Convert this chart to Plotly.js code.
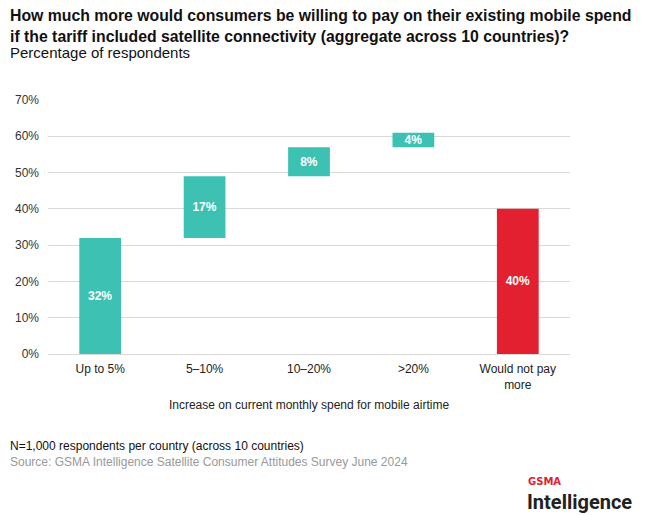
<!DOCTYPE html>
<html><head><meta charset="utf-8">
<script src="https://cdn.plot.ly/plotly-3.0.1.min.js"></script>
<style>html,body{margin:0;padding:0;background:#fff}#c{width:648px;height:515px}</style>
</head><body><div id="c"></div>
<script>
const categories = ["Up to 5%", "5–10%", "10–20%", ">20%", "Would not pay<br>more"];
const values = [32, 17, 8, 4, 40];
const isStep = [true, true, true, true, false];
const tickVals = [0, 10, 20, 30, 40, 50, 60, 70];
const tickText = ["0%", "10%", "20%", "30%", "40%", "50%", "60%", "70%"];

const teal = "#3DC1B3", red = "#E3202F";
let run = 0;
const bases = values.map((v, i) => { if (isStep[i]) { const b = run; run += v; return b; } return 0; });

const F = "Liberation Sans, Arial, sans-serif";
const trace = {
  type: "bar", x: categories, y: values, base: bases,
  marker: { color: values.map((v, i) => isStep[i] ? teal : red) },
  text: values.map(v => "<b>" + v + "%</b>"),
  textposition: "inside", insidetextanchor: "middle", constraintext: "none",
  textfont: { color: "#fff", size: 12, family: F },
  hoverinfo: "skip", cliponaxis: false
};
const layout = {
  width: 648, height: 515, showlegend: false,
  paper_bgcolor: "#fff", plot_bgcolor: "#fff",
  margin: { l: 48, r: 78, t: 100, b: 161 },
  bargap: 0.6,
  font: { family: F, size: 12, color: "#222" },
  xaxis: { type: "category", tickfont: { size: 12, color: "#222" }, ticks: "", showline: false, ticklabelstandoff: 6,
    title: { text: "Increase on current monthly spend for mobile airtime", font: { size: 12, color: "#222" }, standoff: 10 } },
  yaxis: { range: [0, 70], tickvals: tickVals, ticktext: tickText, showgrid: true, gridcolor: "#d9d9d9",
    zeroline: true, zerolinecolor: "#d9d9d9", tickfont: { size: 12, color: "#333" }, ticklabelstandoff: 8, fixedrange: true }
};
const W = 648 - 48 - 78, H = 515 - 100 - 161;
function px(x) { return (x - 48) / W; }
function py(y) { return (515 - 161 - y) / H; }
layout.annotations = [
  { xref: "paper", yref: "paper", x: px(8), y: py(5), xanchor: "left", yanchor: "top", align: "left", showarrow: false,
    text: "<b>How much more would consumers be willing to pay on their existing mobile spend<br>if the tariff included satellite connectivity (aggregate across 10 countries)?</b>",
    font: { size: 15.8, color: "#111", family: F } },
  { xref: "paper", yref: "paper", x: px(8), y: py(42), xanchor: "left", yanchor: "top", align: "left", showarrow: false,
    text: "Percentage of respondents", font: { size: 15, color: "#111", family: F } },
  { xref: "paper", yref: "paper", x: px(8), y: py(437), xanchor: "left", yanchor: "top", align: "left", showarrow: false,
    text: "N=1,000 respondents per country (across 10 countries)", font: { size: 12, color: "#111", family: F } },
  { xref: "paper", yref: "paper", x: px(8), y: py(453), xanchor: "left", yanchor: "top", align: "left", showarrow: false,
    text: "Source: GSMA Intelligence Satellite Consumer Attitudes Survey June 2024", font: { size: 12, color: "#999", family: F } },
  { xref: "paper", yref: "paper", x: px(526), y: py(489), xanchor: "left", yanchor: "bottom", align: "left", showarrow: false,
    text: "<b>GSMA</b>", font: { size: 10, color: "#E3202F", family: "DejaVu Sans, sans-serif" } },
  { xref: "paper", yref: "paper", x: px(525), y: py(488), xanchor: "left", yanchor: "top", align: "left", showarrow: false,
    text: "<b>Intelligence</b>", font: { size: 20, color: "#222", family: "Roboto, Liberation Sans, sans-serif" } }
];
Plotly.newPlot("c", [trace], layout, { staticPlot: true, displayModeBar: false });
</script></body></html>
